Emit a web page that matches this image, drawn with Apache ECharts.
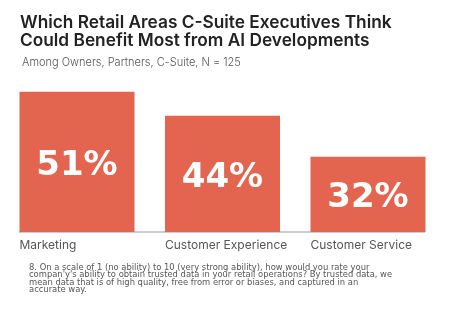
<!DOCTYPE html>
<html><head><meta charset="utf-8">
<script src="https://cdn.jsdelivr.net/npm/echarts@6/dist/echarts.min.js"></script>
<style>html,body{margin:0;padding:0;background:#fff}#c{width:454px;height:324px}</style>
</head><body><div id="c"></div>
<script>
var categories = ['Marketing', 'Customer Experience', 'Customer Service'];
var values = [51, 44, 32];
var titleText = 'Which Retail Areas C-Suite Executives Think\nCould Benefit Most from AI Developments';
var subtitleText = 'Among Owners, Partners, C-Suite, N = 125';
var footnoteText = "8. On a scale of 1 (no ability) to 10 (very strong ability), how would you rate your\ncompan'y's ability to obtain trusted data in your retail operations? By trusted data, we\nmean data that is of high quality, free from error or biases, and captured in an\naccurate way.";

var chart = echarts.init(document.getElementById('c'), null, {renderer: 'canvas'});
chart.setOption({
  animation: false,
  backgroundColor: '#fff',
  title: [
    {text: titleText, left: 20, top: 14, padding: 0,
     textStyle: {fontFamily: 'Inter', fontWeight: 600, fontSize: 17.3, lineHeight: 18, color: '#222'}},
    {text: subtitleText, left: 22, top: 57, padding: 0,
     textStyle: {fontFamily: 'Inter', fontWeight: 300, fontSize: 11, color: '#555'}},
    {text: footnoteText, left: 29, top: 264, padding: 0,
     textStyle: {fontFamily: 'DejaVu Sans', fontWeight: 400, fontSize: 8.4, lineHeight: 7.4, color: '#555'}}
  ],
  grid: {left: 4.25, width: 436.5, top: 61, height: 171},
  xAxis: {
    type: 'category', data: categories,
    axisLine: {show: false}, axisTick: {show: false},
    axisLabel: {margin: 7, interval: 0, hideOverlap: false, color: '#555', fontFamily: 'Inter', fontSize: 12,
      formatter: '{a|{value}}', rich: {a: {width: 115, align: 'left', fontFamily: 'Inter', fontSize: 12, color: '#555'}}}
  },
  yAxis: {type: 'value', min: 10, max: 60, show: false, splitLine: {show: false}},
  graphic: [{type: 'line', shape: {x1: 19, y1: 232, x2: 425, y2: 232}, style: {stroke: '#999', lineWidth: 1}}],
  series: [{
    type: 'bar', data: values, barWidth: 115,
    itemStyle: {color: '#E3654F'},
    label: {show: true, position: 'inside', offset: [0, 4], formatter: '{c}%', color: '#fff',
      fontFamily: 'DejaVu Sans', fontWeight: 'bold', fontSize: 34}
  }]
});
</script></body></html>
